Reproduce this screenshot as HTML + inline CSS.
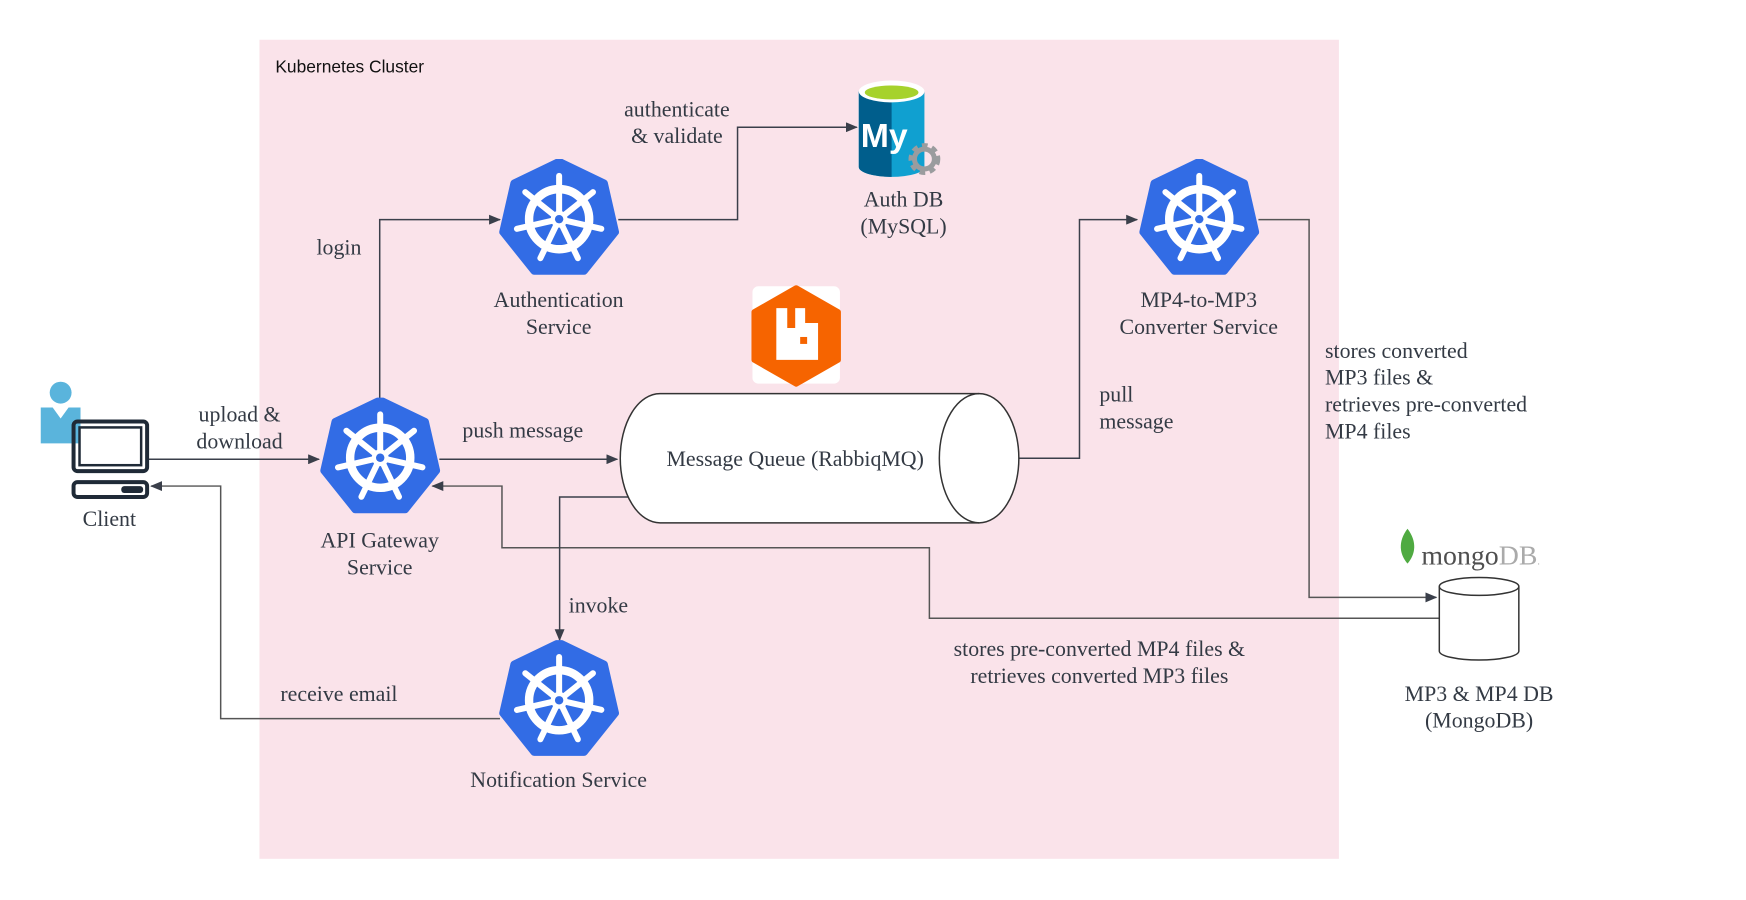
<!DOCTYPE html>
<html><head><meta charset="utf-8"><style>
html,body{margin:0;padding:0;background:#fff;width:1746px;height:900px;overflow:hidden}
text{font-family:"Liberation Serif",serif;font-size:22px;fill:#333a44}
</style></head><body>
<svg width="1746" height="900" viewBox="0 0 1746 900" xmlns="http://www.w3.org/2000/svg">
<defs>
<marker id="ar" markerWidth="12" markerHeight="10" refX="11" refY="5" orient="auto" markerUnits="userSpaceOnUse">
<path d="M0,0 L12,5 L0,10 Z" fill="#3a3f4a"/></marker>
<symbol id="k8s" viewBox="-50 -50 100 100">
<polygon points="0,-48 37.5,-30 46.8,10.7 20.8,43.2 -20.8,43.2 -46.8,10.7 -37.5,-30" fill="#326ce5" stroke="#326ce5" stroke-width="6" stroke-linejoin="round"/>
<g stroke="#fff" stroke-linecap="round" fill="none">
<circle r="25" stroke-width="7"/>
<g stroke-width="5">
<line x1="0" y1="0" x2="0" y2="-36"/>
<line x1="0" y1="0" x2="0" y2="-36" transform="rotate(51.4)"/>
<line x1="0" y1="0" x2="0" y2="-36" transform="rotate(102.8)"/>
<line x1="0" y1="0" x2="0" y2="-36" transform="rotate(154.3)"/>
<line x1="0" y1="0" x2="0" y2="-36" transform="rotate(205.7)"/>
<line x1="0" y1="0" x2="0" y2="-36" transform="rotate(257.1)"/>
<line x1="0" y1="0" x2="0" y2="-36" transform="rotate(308.6)"/>
</g></g>
<circle r="7" fill="#fff"/><circle r="3.5" fill="#326ce5"/>
</symbol>
</defs>
<g transform="scale(0.994)">
<rect x="261" y="40" width="1086" height="824" fill="#fae3ea"/>
<text x="277" y="73" style="font-family:'Liberation Sans',sans-serif;font-size:17.5px;fill:#111">Kubernetes Cluster</text>

<g stroke="#3a3f4a" stroke-width="1.5" fill="none">
<path d="M149,462 H321" marker-end="url(#ar)"/>
<path d="M442,462 H621" marker-end="url(#ar)"/>
<path d="M382,401 V221 H503" marker-end="url(#ar)"/>
<path d="M622,221 H742 V128 H862" marker-end="url(#ar)"/>
<path d="M1025,461 H1086 V221 H1144" marker-end="url(#ar)"/>
<path d="M1266,221 H1317 V601 H1445" marker-end="url(#ar)" stroke="#555"/>
<path d="M1448,622 H935 V551 H505 V489 H435" marker-end="url(#ar)" stroke="#555"/>
<path d="M634,500 H563 V644" marker-end="url(#ar)"/>
<path d="M503,723 H222 V489 H152" marker-end="url(#ar)" stroke="#555"/>
</g>

<use href="#k8s" x="502" y="160" width="121" height="121"/>
<use href="#k8s" x="322" y="400" width="121" height="121"/>
<use href="#k8s" x="1146" y="160" width="121" height="121"/>
<use href="#k8s" x="502" y="644" width="121" height="121"/>

<g>
<path d="M864,92 V168 A33,10 0 0 0 930,168 V92 Z" fill="#10a0d0"/>
<path d="M864,92 V168 A33,10 0 0 0 897,178 V92 Z" fill="#005e8c"/>
<ellipse cx="897" cy="92" rx="33" ry="11" fill="#fff"/>
<ellipse cx="897" cy="93" rx="27" ry="7" fill="#a6d22c"/>
<text x="866" y="148" style="font-family:'Liberation Sans',sans-serif;font-weight:bold;font-size:34px;fill:#fff">My</text>
<circle cx="930" cy="160" r="12" fill="none" stroke="#9a9c9e" stroke-width="8" stroke-dasharray="5 4"/>
<circle cx="930" cy="160" r="10" fill="none" stroke="#9a9c9e" stroke-width="5"/>
</g>
<text x="909" y="208" text-anchor="middle">Auth DB</text>
<text x="909" y="235" text-anchor="middle">(MySQL)</text>

<rect x="757" y="288" width="88" height="98" rx="6" fill="#fff"/>
<polygon points="801,290 843,314 843,362 801,386 759,362 759,314" fill="#f66400" stroke="#f66400" stroke-width="6" stroke-linejoin="round"/>
<path d="M781,310 H792 V330 H800 V310 H810 V325 H823 V362 H781 Z" fill="#fff"/>
<rect x="805" y="339" width="7" height="7" fill="#f66400"/>

<path d="M664,396 H985 A40,65 0 0 1 985,526 H664 A40,65 0 0 1 664,396 Z" fill="#fff" stroke="#333" stroke-width="1.5"/>
<path d="M985,396 A40,65 0 0 0 985,526" fill="none" stroke="#333" stroke-width="1.5"/>
<text x="800" y="469" text-anchor="middle">Message Queue (RabbiqMQ)</text>

<circle cx="61" cy="395" r="11" fill="#5ab4dc"/>
<path d="M41,410 H81 V446 H41 Z" fill="#5ab4dc"/>
<path d="M53,410 L61,421 L69,410 Z" fill="#fff"/>
<rect x="74" y="424" width="74" height="50" rx="4" fill="none" stroke="#1f2a37" stroke-width="4"/>
<rect x="80" y="430" width="62" height="38" fill="none" stroke="#1f2a37" stroke-width="2.5"/>
<rect x="74" y="485" width="74" height="15" rx="4" fill="none" stroke="#1f2a37" stroke-width="4"/>
<rect x="122" y="489" width="22" height="7" rx="3" fill="#1f2a37"/>
<text x="110" y="529" text-anchor="middle">Client</text>

<path d="M1416,532 C1406,545 1408,558 1416,567 C1424,558 1426,545 1416,532 Z" fill="#4faa41"/>
<text x="1430" y="568" style="font-size:28px;fill:#4f4f4f">mongo<tspan style="fill:#aaa">DB</tspan><tspan style="font-size:10px;fill:#aaa">.</tspan></text>
<path d="M1448,590 V655 A40,9 0 0 0 1528,655 V590" fill="#fff" stroke="#333" stroke-width="1.5"/>
<ellipse cx="1488" cy="590" rx="40" ry="9" fill="#fff" stroke="#333" stroke-width="1.5"/>
<text x="1488" y="705" text-anchor="middle">MP3 &amp; MP4 DB</text>
<text x="1488" y="732" text-anchor="middle">(MongoDB)</text>

<text x="562" y="309" text-anchor="middle">Authentication</text>
<text x="562" y="336" text-anchor="middle">Service</text>
<text x="382" y="551" text-anchor="middle">API Gateway</text>
<text x="382" y="578" text-anchor="middle">Service</text>
<text x="1206" y="309" text-anchor="middle">MP4-to-MP3</text>
<text x="1206" y="336" text-anchor="middle">Converter Service</text>
<text x="562" y="792" text-anchor="middle">Notification Service</text>
<text x="241" y="424" text-anchor="middle">upload &amp;</text>
<text x="241" y="451" text-anchor="middle">download</text>
<text x="526" y="440" text-anchor="middle">push message</text>
<text x="341" y="256" text-anchor="middle">login</text>
<text x="681" y="117" text-anchor="middle">authenticate</text>
<text x="681" y="144" text-anchor="middle">&amp; validate</text>
<text x="1106" y="404">pull</text>
<text x="1106" y="431">message</text>
<text x="1333" y="360">stores converted</text>
<text x="1333" y="387">MP3 files &amp;</text>
<text x="1333" y="414">retrieves pre-converted</text>
<text x="1333" y="441">MP4 files</text>
<text x="1106" y="660" text-anchor="middle">stores pre-converted MP4 files &amp;</text>
<text x="1106" y="687" text-anchor="middle">retrieves converted MP3 files</text>
<text x="602" y="616" text-anchor="middle">invoke</text>
<text x="341" y="705" text-anchor="middle">receive email</text>
</g>
</svg>
</body></html>
